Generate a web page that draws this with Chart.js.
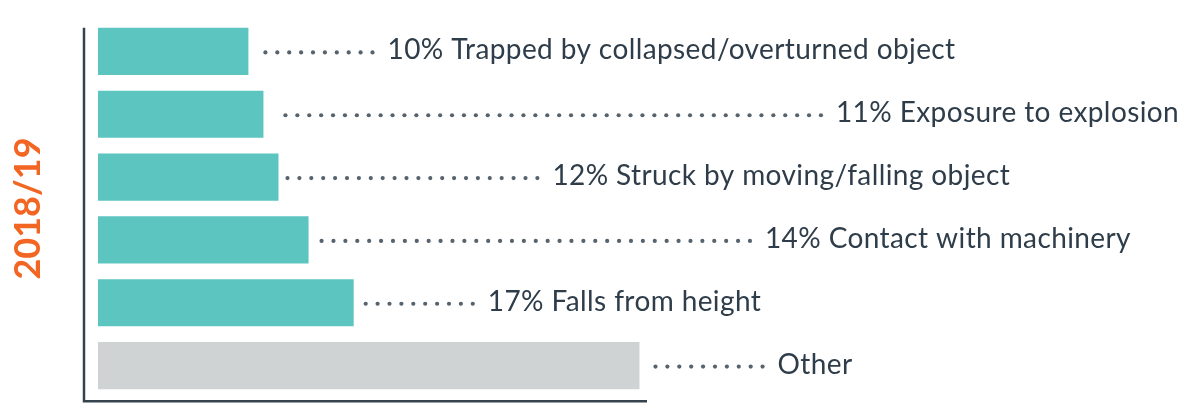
<!DOCTYPE html>
<html>
<head>
<meta charset="utf-8">
<script src="https://cdn.jsdelivr.net/npm/chart.js@4/dist/chart.umd.min.js"></script>
<style>
  body { margin: 0; background: #fff; }
  #wrap { width: 1184px; height: 413px; }
</style>
</head>
<body>
<div id="wrap"><canvas id="causeChart" width="1184" height="413"></canvas></div>
<script>
// data (2018/19, top to bottom)
const causes = ['Trapped by collapsed/overturned object', 'Exposure to explosion', 'Struck by moving/falling object', 'Contact with machinery', 'Falls from height', 'Other'];
const shares = [10, 11, 12, 14, 17, 36];
const showShare = [true, true, true, true, true, false];
const barColors = ['#5cc5c0', '#5cc5c0', '#5cc5c0', '#5cc5c0', '#5cc5c0', '#cfd3d3'];

// dotted leader styling per row
const leaderGap = [17, 22, 9, 13, 12, 16];
const leaderDots = [10, 46, 22, 37, 10, 10];
const dotStep = 11.9;

const textColor = '#2e3d49';
const axisColor = '#34434e';

const leaderPlugin = {
    id: 'leaders',
    afterDatasetsDraw(chart) {
        const ctx = chart.ctx;
        const bars = chart.getDatasetMeta(0).data;
        ctx.save();
        bars.forEach((bar, i) => {
            const y = bar.y + 1;
            let x = bar.x + leaderGap[i];
            ctx.fillStyle = '#56626c';
            for (let d = 0; d < leaderDots[i]; d++) {
                ctx.beginPath();
                ctx.arc(x + d * dotStep, y, 2.1, 0, Math.PI * 2);
                ctx.fill();
            }
            const tx = x + (leaderDots[i] - 1) * dotStep + 15;
            const label = showShare[i] ? shares[i] + '% ' + causes[i] : causes[i];
            ctx.fillStyle = textColor;
            ctx.font = '28px Lato, "Open Sans", sans-serif';
            ctx.letterSpacing = '0.4px';
            ctx.textBaseline = 'middle';
            ctx.textAlign = 'left';
            ctx.fillText(label, tx, y - 2);
        });

        // axis lines: from the top of the first bar down, then along the bottom
        const first = bars[0], last = bars[bars.length - 1];
        const top = first.y - first.height / 2;
        const bottom = last.y + last.height / 2 + 12;
        const left = chart.chartArea.left;
        ctx.strokeStyle = axisColor;
        ctx.lineWidth = 2.5;
        ctx.beginPath();
        ctx.moveTo(left, top);
        ctx.lineTo(left, bottom);
        ctx.lineTo(chart.chartArea.right, bottom);
        ctx.stroke();
        ctx.restore();
    }
};

new Chart(document.getElementById('causeChart'), {
    type: 'bar',
    data: {
        labels: causes,
        datasets: [{
            data: shares,
            backgroundColor: barColors,
            borderWidth: 0,
            barPercentage: 0.75,
            categoryPercentage: 1
        }]
    },
    options: {
        indexAxis: 'y',
        responsive: false,
        animation: false,
        layout: { padding: { top: 20, bottom: 16, left: 0, right: 537 } },
        plugins: { legend: { display: false }, tooltip: { enabled: false } },
        scales: {
            x: {
                display: false,
                min: -0.93,
                max: 36.5
            },
            y: {
                grid: { display: false, drawTicks: false },
                border: { display: false },
                ticks: { display: false },
                title: {
                    display: true,
                    text: '2018/19',
                    color: '#f26522',
                    font: { family: 'Lato, "Open Sans", sans-serif', size: 36, weight: 'bold', lineHeight: 1 },
                    padding: { top: 10, bottom: 38 }
                }
            }
        }
    },
    plugins: [leaderPlugin]
});
</script>
</body>
</html>
